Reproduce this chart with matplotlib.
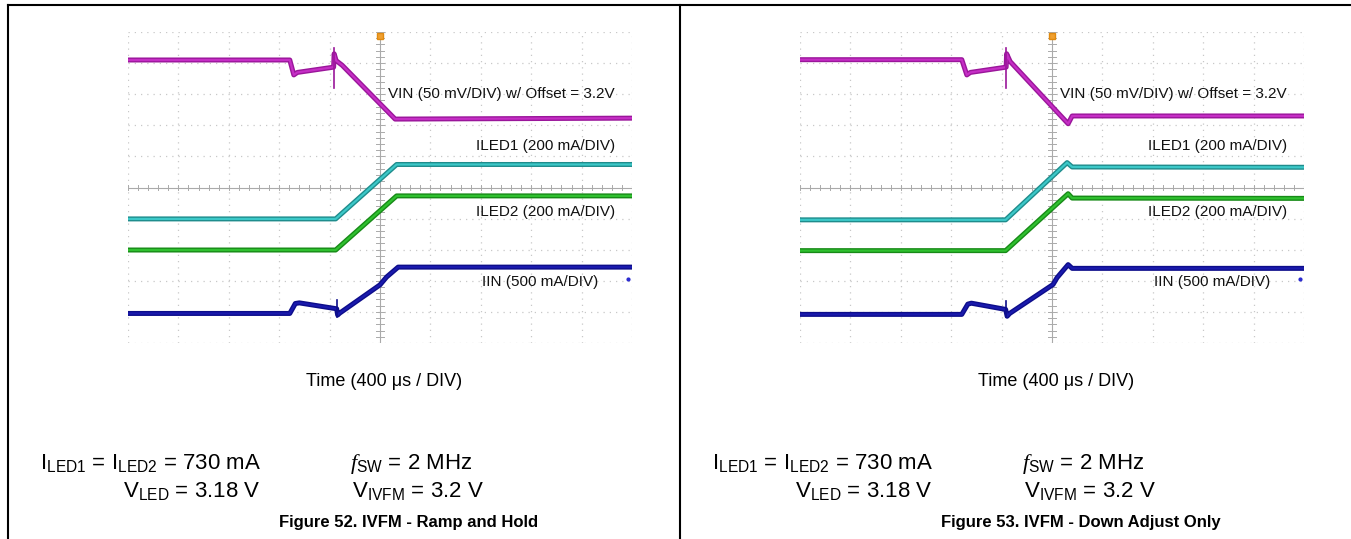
import matplotlib
matplotlib.use("Agg")
import matplotlib.pyplot as plt
from matplotlib.lines import Line2D

plt.rcParams['font.family'] = ['Liberation Sans', 'DejaVu Sans']
plt.rcParams['mathtext.fontset'] = 'custom'
plt.rcParams['mathtext.rm'] = 'Liberation Sans'
plt.rcParams['mathtext.it'] = 'Liberation Serif:italic'
plt.rcParams['mathtext.bf'] = 'Liberation Sans:bold'

W, H = 1351, 539

# ---------------- data (time and level in scope divisions) ----------------
# Figure 52 - Ramp and Hold
vin52_t = [0, 3.21, 3.29, 3.36, 4.08, 4.09, 4.13, 4.25, 5.30, 10]
vin52_v = [9.10, 9.10, 8.62, 8.70, 8.87, 9.30, 9.08, 8.93, 7.20, 7.23]
vin52_spike_t = [4.08, 4.08]
vin52_spike_v = [8.20, 9.48]
iled1_52_t = [0, 4.12, 5.33, 10]
iled1_52_v = [3.99, 3.99, 5.74, 5.74]
iled2_52_t = [0, 4.12, 5.33, 10]
iled2_52_v = [2.99, 2.99, 4.73, 4.73]
iin52_t = [0, 3.21, 3.32, 3.40, 4.14, 4.16, 4.20, 5.00, 5.13, 5.36, 10]
iin52_v = [0.95, 0.95, 1.27, 1.29, 1.10, 0.90, 0.96, 1.87, 2.12, 2.44, 2.44]
iin52_spike_t = [4.14, 4.14]
iin52_spike_v = [0.85, 1.38]

# Figure 53 - Down Adjust Only
vin53_t = [0, 3.21, 3.31, 3.38, 4.09, 4.10, 4.17, 5.32, 5.40, 10]
vin53_v = [9.11, 9.11, 8.62, 8.70, 8.87, 9.30, 9.05, 7.05, 7.30, 7.30]
vin53_spike_t = [4.09, 4.09]
vin53_spike_v = [8.20, 9.50]
iled1_53_t = [0, 4.08, 5.30, 5.40, 10]
iled1_53_v = [3.96, 3.96, 5.80, 5.66, 5.65]
iled2_53_t = [0, 4.08, 5.32, 5.40, 10]
iled2_53_v = [2.97, 2.97, 4.80, 4.66, 4.65]
iin53_t = [0, 3.21, 3.33, 3.40, 4.08, 4.11, 4.16, 5.02, 5.10, 5.32, 5.40, 10]
iin53_v = [0.92, 0.92, 1.25, 1.28, 1.08, 0.86, 0.95, 1.88, 2.10, 2.52, 2.40, 2.40]
iin53_spike_t = [4.08, 4.08]
iin53_spike_v = [0.84, 1.35]

trace_labels = ["VIN (50 mV/DIV) w/ Offset = 3.2V", "ILED1 (200 mA/DIV)",
                "ILED2 (200 mA/DIV)", "IIN (500 mA/DIV)"]
time_label = "Time (400 \u03bcs / DIV)"
captions = ["Figure 52. IVFM - Ramp and Hold", "Figure 53. IVFM - Down Adjust Only"]

colors = {
    'vin': ('#9a169a', '#c52ec5'),
    'iled1': ('#1f8c8c', '#3cc8c8'),
    'iled2': ('#178a17', '#2fc02f'),
    'iin': ('#0d0d8a', '#1a1aad'),
}

fig = plt.figure(figsize=(W / 100, H / 100), dpi=100)


def fx(x):
    return x / W


def fy(y):
    return 1 - y / H


def scope(x0, traces, spikes, label_right, iin_label_right, marker_x):
    ax = fig.add_axes([fx(x0), fy(343), fx(504), 311 / H])
    ax.set_xlim(0, 10)
    ax.set_ylim(0, 10)
    ax.axis('off')
    gc = '#c8c8c8'
    for i in range(0, 11):
        if i == 5:
            continue
        ax.plot([i, i], [0, 10], color=gc, lw=0.9, ls=(0, (1, 4)), zorder=1)
        ax.plot([0, 10], [i, i], color=gc, lw=0.9, ls=(0, (1, 4)), zorder=1)
    # centre axes with minor ticks
    ax.plot([5, 5], [0, 10], color='#aaaaaa', lw=0.8, zorder=1)
    ax.plot([0, 10], [5, 5], color='#aaaaaa', lw=0.8, zorder=1)
    for k in range(51):
        v = k * 0.2
        ax.plot([v, v], [4.93, 5.07], color='#aaaaaa', lw=0.7, zorder=1)
        ax.plot([4.93, 5.07], [v, v], color='#aaaaaa', lw=0.7, zorder=1)
    for key, (t, v) in traces.items():
        dark, light = colors[key]
        ax.plot(t, v, color=dark, lw=3.6, solid_joinstyle='round',
                solid_capstyle='butt', zorder=3)
        ax.plot(t, v, color=light, lw=1.6, solid_joinstyle='round', zorder=4)
    for key, (t, v) in spikes.items():
        ax.plot(t, v, color=colors[key][0], lw=1.2, zorder=4)
    # trigger marker & channel indicator
    ax.plot([5], [9.86], marker='s', ms=4.5, color='#f0a030', mec='#e08a10', zorder=5, clip_on=False)
    ax.plot([marker_x], [2.05], marker='.', ms=4, color='#2a2ad0', zorder=5)
    ys = [8.0, 6.35, 4.2, 1.95]
    for lab, y, xr in zip(trace_labels, ys, [label_right] * 3 + [iin_label_right]):
        ax.text(xr, y, lab, ha='right', va='center', fontsize=11, color='#111111', zorder=6)
    return ax


scope(128, {
    'vin': (vin52_t, vin52_v),
    'iled1': (iled1_52_t, iled1_52_v),
    'iled2': (iled2_52_t, iled2_52_v),
    'iin': (iin52_t, iin52_v),
}, {
    'vin': (vin52_spike_t, vin52_spike_v),
    'iin': (iin52_spike_t, iin52_spike_v),
}, 9.66, 9.34, 9.92)

scope(800, {
    'vin': (vin53_t, vin53_v),
    'iled1': (iled1_53_t, iled1_53_v),
    'iled2': (iled2_53_t, iled2_53_v),
    'iin': (iin53_t, iin53_v),
}, {
    'vin': (vin53_spike_t, vin53_spike_v),
    'iin': (iin53_spike_t, iin53_spike_v),
}, 9.66, 9.34, 9.92)

# text blocks
for k, off in enumerate([0, 672]):
    fig.text(fx(384 + off), fy(382), time_label, ha='center', va='center', fontsize=13)
    fig.text(fx(261 + off), fy(469), r'I$_{\mathrm{LED1}}$ = I$_{\mathrm{LED2}}$ = 730 mA',
             ha='right', va='baseline', fontsize=16)
    fig.text(fx(260 + off), fy(497), r'V$_{\mathrm{LED}}$ = 3.18 V',
             ha='right', va='baseline', fontsize=16)
    fig.text(fx(350 + off), fy(469), r'$\mathit{f}_{\mathrm{SW}}$ = 2 MHz',
             ha='left', va='baseline', fontsize=16)
    fig.text(fx(352 + off), fy(497), r'V$_{\mathrm{IVFM}}$ = 3.2 V',
             ha='left', va='baseline', fontsize=16)
    fig.text(fx(409 + off), fy(523), captions[k], ha='center', va='center',
             fontsize=12, fontweight='bold')

# frame lines
fig.add_artist(Line2D([fx(8), 1], [fy(4.5), fy(4.5)], color='black', lw=1.5))
fig.add_artist(Line2D([fx(8), fx(8)], [fy(4.5), 0], color='black', lw=1.5))
fig.add_artist(Line2D([fx(679.5), fx(679.5)], [fy(4.5), 0], color='black', lw=1.5))

fig.savefig('out.png', dpi=100)
